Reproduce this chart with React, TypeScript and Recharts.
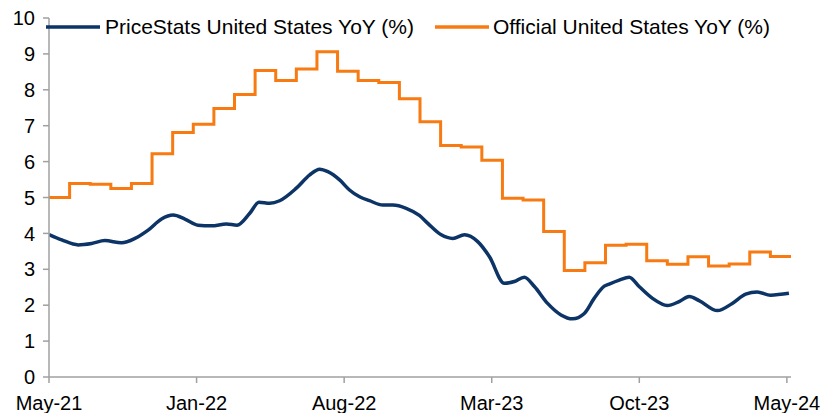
import React from "react";
import { LineChart, Line, XAxis, YAxis, Legend } from "recharts";

// Official CPI YoY (%), monthly, May-21 .. Apr-24 (step series)
const officialMonths = [
  0, 1, 2, 3, 4, 5, 6, 7, 8, 9, 10, 11, 12, 13, 14, 15, 16, 17, 18, 19, 20, 21,
  22, 23, 24, 25, 26, 27, 28, 29, 30, 31, 32, 33, 34, 35, 36,
];
const officialValues = [
  5.0, 5.39, 5.37, 5.25, 5.39, 6.22, 6.81, 7.04, 7.48, 7.87, 8.54, 8.26, 8.58,
  9.06, 8.52, 8.26, 8.2, 7.75, 7.11, 6.45, 6.41, 6.04, 4.98, 4.93, 4.05, 2.97,
  3.18, 3.67, 3.7, 3.24, 3.14, 3.35, 3.09, 3.15, 3.48, 3.36, 3.36,
];

// PriceStats YoY (%), months since May-21
const priceStatsMonths = [
  0, 0.62, 1.42, 2.07, 2.71, 3.52, 4.17, 4.81, 5.46, 6.02, 6.59, 7.23, 7.88,
  8.61, 9.12, 9.74, 10.19, 10.71, 11.19, 12.0, 12.65, 13.13, 13.53, 14.1, 14.58,
  15.07, 15.55, 16.2, 16.68, 17.33, 17.97, 18.38, 19.03, 19.59, 20.16, 20.8,
  21.37, 22.09, 22.58, 23.06, 23.55, 24.19, 24.84, 25.4, 25.97, 26.45, 26.94,
  27.18, 27.67, 28.15, 28.63, 29.28, 30.0, 30.57, 31.06, 31.54, 32.43, 33.15,
  33.8, 34.36, 35.01, 35.9,
];
const priceStatsValues = [
  3.97, 3.82, 3.68, 3.72, 3.8, 3.74, 3.86, 4.09, 4.4, 4.51, 4.4, 4.23, 4.21,
  4.26, 4.23, 4.56, 4.87, 4.84, 4.91, 5.26, 5.63, 5.79, 5.72, 5.49, 5.21, 5.02,
  4.91, 4.79, 4.79, 4.7, 4.5, 4.28, 3.96, 3.86, 3.96, 3.77, 3.35, 2.61, 2.66,
  2.78, 2.52, 2.05, 1.73, 1.62, 1.77, 2.19, 2.53, 2.59, 2.7, 2.78, 2.52, 2.19,
  1.99, 2.1, 2.24, 2.13, 1.85, 2.05, 2.31, 2.37, 2.28, 2.33,
];

const xTickPositions = [0, 7.16, 14.32, 21.48, 28.64, 35.8];
const xTickLabels = ["May-21", "Jan-22", "Aug-22", "Mar-23", "Oct-23", "May-24"];
const yTicks = [0, 1, 2, 3, 4, 5, 6, 7, 8, 9, 10];

const seriesNames = [
  "PriceStats United States YoY (%)",
  "Official United States YoY (%)",
];

const BLUE = "#0c3466";
const ORANGE = "#f77b12";
const AXIS = "#a0a0a0";
const FONT = "'Liberation Sans', Arial, sans-serif";

const officialData = officialMonths.map((m, i) => ({ m, v: officialValues[i] }));
const priceStatsData = priceStatsMonths.map((m, i) => ({ m, v: priceStatsValues[i] }));

const LegendContent = () => (
  <div style={{ display: "flex", alignItems: "center", fontFamily: FONT, fontSize: 21, color: "#000", whiteSpace: "nowrap" }}>
    <svg width={54} height={6} style={{ marginRight: 5 }}>
      <line x1={0} y1={3} x2={54} y2={3} stroke={BLUE} strokeWidth={3.5} />
    </svg>
    <span style={{ marginRight: 21 }}>{seriesNames[0]}</span>
    <svg width={54} height={6} style={{ marginRight: 4 }}>
      <line x1={0} y1={3} x2={54} y2={3} stroke={ORANGE} strokeWidth={3.5} />
    </svg>
    <span>{seriesNames[1]}</span>
  </div>
);

export default function App() {
  return (
    <div style={{ position: "absolute", left: 0, top: 0, width: 824, height: 413, background: "#fff" }}>
      <LineChart
        width={824}
        height={413}
        margin={{ top: 18, right: 33, bottom: 0, left: 0 }}
      >
        <XAxis
          type="number"
          dataKey="m"
          domain={[0, 36]}
          ticks={xTickPositions}
          tickFormatter={(v: number) => xTickLabels[xTickPositions.indexOf(v)] ?? ""}
          height={36}
          stroke={AXIS}
          strokeWidth={1.5}
          tickSize={6}
          tickMargin={13}
          tick={{ fill: "#000", fontSize: 20, fontFamily: FONT }}
          allowDataOverflow
        />
        <YAxis
          type="number"
          domain={[0, 10]}
          ticks={yTicks}
          width={49}
          stroke={AXIS}
          strokeWidth={1.5}
          tickSize={6}
          tickMargin={8}
          tick={{ fill: "#000", fontSize: 20, fontFamily: FONT }}
          interval={0}
        />
        <Legend
          verticalAlign="middle"
          align="center"
          content={<LegendContent />}
          wrapperStyle={{ position: "absolute", top: 15, left: 46, width: "auto" }}
        />
        <Line
          data={officialData}
          dataKey="v"
          type="stepAfter"
          stroke={ORANGE}
          strokeWidth={3}
          dot={false}
          isAnimationActive={false}
        />
        <Line
          data={priceStatsData}
          dataKey="v"
          type="monotone"
          stroke={BLUE}
          strokeWidth={3.5}
          dot={false}
          isAnimationActive={false}
        />
      </LineChart>
    </div>
  );
}
